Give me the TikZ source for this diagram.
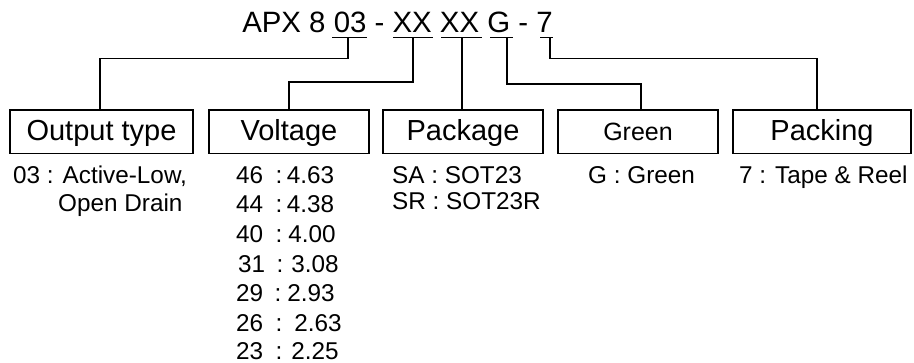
\documentclass[tikz,border=0pt]{standalone}
\usepackage{fontspec}
\setmainfont{Liberation Sans}
\begin{document}
\begin{tikzpicture}[x=1pt,y=-1pt,
  ln/.style={line width=1.3pt, line cap=rect},
  box/.style={draw, line width=1.3pt, inner xsep=0pt, inner ysep=0pt,
    text height=30.5pt, text depth=13pt, font=\fontsize{29}{33}\selectfont},
  titlefont/.style={font=\fontsize{29.4}{33}\selectfont, inner sep=0pt, anchor=base},
  desc/.style={font=\fontsize{24.3}{28}\selectfont, inner sep=0pt, anchor=base west}]
\useasboundingbox (0,0) rectangle (914,363);

% title
\node[titlefont] (title) at (397.5,33) {APX 8 03 - XX XX G - 7};

% underline coordinates
\coordinate (a1) at (332,37.5); \coordinate (b1) at (367,37.5);
\coordinate (a2) at (393,37.5); \coordinate (b2) at (433,37.5);
\coordinate (a3) at (441,37.5); \coordinate (b3) at (482,37.5);
\coordinate (a4) at (490,37.5); \coordinate (b4) at (513,37.5);
\coordinate (a5) at (540,37.5); \coordinate (b5) at (553,37.5);
\draw[line width=1.3pt] (a1) -- (b1) (a2) -- (b2) (a3) -- (b3) (a4) -- (b4) (a5) -- (b5);

% connector start points
\coordinate (u1) at (348,37.5);
\coordinate (u2) at (413,37.5);
\coordinate (u3) at (462,37.5);
\coordinate (u4) at (507,37.5);
\coordinate (u5) at (550,37.5);

% boxes
\node[box, minimum width=183pt] (out) at (101.5,131.75) {Output type};
\node[box, minimum width=160pt] (volt) at (289,131.75) {Voltage};
\node[box, minimum width=160pt] (pkg) at (463,131.75) {Package};
\node[box, minimum width=160pt, font=\fontsize{25}{29}\selectfont] (grn) at (638,131.75) {Green};
\node[box, minimum width=178pt] (pack) at (822,131.75) {Packing};

% connectors
\draw[ln] (u1) -- ++(0,21) -| ([xshift=-1.5pt]out.north);
\draw[ln] (u2) -- ++(0,44.5) -| (volt.north);
\draw[ln] (u3) -- (u3 |- pkg.north);
\draw[ln] (u4) -- ++(0,46.5) -| ([xshift=3pt]grn.north);
\draw[ln] (u5) -- ++(0,21) -| ([xshift=-5pt]pack.north);

% descriptions
\node[desc] (o1) at (13,184) {03 : Active-Low,};
\node[desc] (o2) at (58,212) {Open Drain};

\node[desc] (v1) at (236,184) {\makebox[39.5pt][l]{46}:\hspace{4.5pt}4.63};
\node[desc] (v2) at (236,213) {\makebox[39.5pt][l]{44}:\hspace{4.5pt}4.38};
\node[desc] (v3) at (236,242.5) {\makebox[39.5pt][l]{40}:\hspace{6pt}4.00};
\node[desc] (v4) at (238,272.5) {\makebox[38.5pt][l]{31}:\hspace{8pt}3.08};
\node[desc] (v5) at (236,302) {\makebox[38.5pt][l]{29}:\hspace{6pt}2.93};
\node[desc] (v6) at (236,331.5) {\makebox[39.5pt][l]{26}:\hspace{12pt}2.63};
\node[desc] (v7) at (236,359.5) {\makebox[39.5pt][l]{23}:\hspace{9pt}2.25};

\node[desc] (p1) at (392,184) {SA : SOT23};
\node[desc] (p2) at (392,210) {SR : SOT23R};

\node[desc] (g1) at (588,184) {G : Green};
\node[desc] (k1) at (739,184) {7 : Tape \& Reel};
\end{tikzpicture}
\end{document}
